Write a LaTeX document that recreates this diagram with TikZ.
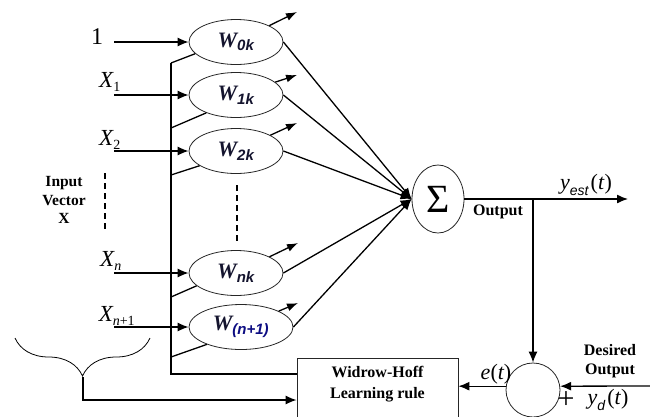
\documentclass[tikz,border=0pt]{standalone}
\usepackage{fontspec}
\setmainfont{Liberation Serif}
\newfontfamily\sansf{Liberation Sans}
\usetikzlibrary{arrows.meta,shapes.geometric,decorations.pathreplacing,calc}

\definecolor{wink}{rgb}{0.08,0.08,0.18}
% weight label: bold italic W with a bold subscript
\newcommand\wlab[1]{{\color{wink}\fontsize{22}{22}\selectfont\bfseries\itshape W$_{\hbox{\fontsize{15}{15}\selectfont\sansf\bfseries #1}}$}}
% input label: italic X with a subscript
\newcommand\xlab[1]{{\fontsize{23}{23}\selectfont\itshape X$_{\hbox{\fontsize{14}{14}\selectfont\upshape #1}}$}}

\begin{document}
\begin{tikzpicture}[x=1pt,y=-1pt, line width=1.3pt,
  wnode/.style={draw=black!85, ellipse, line width=0.8pt, minimum width=94pt,
                minimum height=45pt, inner sep=0pt},
  arr/.style={-{Latex[length=11pt,width=9pt]}},
  sarr/.style={-{Latex[length=11pt,width=8pt]}},
  blbl/.style={inner sep=0pt, font=\fontsize{16}{16}\selectfont\bfseries, align=center},
  dash line/.style={dash pattern=on 6pt off 4pt, line width=1.2pt}
]
\useasboundingbox (0,0) rectangle (650,416);

% weight nodes
\node[wnode] (w0) at (236,42)  {\wlab{0\textit{k}}};
\node[wnode] (w1) at (236,95)  {\wlab{1\textit{k}}};
\node[wnode] (w2) at (236,151) {\wlab{2\textit{k}}};
\node[wnode] (wn) at (236,273) {\wlab{\textit{nk}}};
\node[wnode, minimum width=104pt] (wm) at (241,327)
  {{\color{wink}\fontsize{22}{22}\selectfont\bfseries\itshape W$_{\hbox{\fontsize{15}{15}\selectfont\sansf\bfseries\color{wink!60!blue} (\textit{n}+1)}}$}};

% summing junction, error junction, learning rule
\node[draw=black!85, ellipse, line width=0.8pt, minimum width=52pt, minimum height=68pt, inner sep=0pt]
  (sig) at (438,199) {\fontsize{40}{40}\selectfont Σ};
\node[draw=black!85, circle, line width=0.8pt, minimum size=54pt, inner sep=0pt] (err) at (533,390) {};
\node[draw=black!85, line width=0.8pt, minimum width=161pt, minimum height=70pt, anchor=north]
  (rule) at (377.5,358) {};
\node[blbl] (ruletext) at (377.5,384) {Widrow-Hoff\\[5pt]Learning rule};

% input labels
\node[inner sep=0pt, font=\fontsize{24}{24}\selectfont] (one) at (97,37) {1};
\node[inner sep=0pt] (x1) at (110,82)  {\xlab{1}};
\node[inner sep=0pt] (x2) at (110,140) {\xlab{2}};
\node[inner sep=0pt] (xn) at (111,261) {\xlab{\itshape n}};
\node[inner sep=0pt] (xm) at (117,316) {\xlab{\itshape n\upshape+1}};
\node[blbl, font=\fontsize{15.5}{15.5}\selectfont\bfseries] (invec) at (64,200) {Input\\[3pt]Vector\\[3pt]X};

% input arrows
\coordinate (i0) at (114,42);
\coordinate (i1) at (114,95);
\coordinate (i2) at (114,151);
\coordinate (in) at (114,273);
\coordinate (im) at (114,327);
\draw[arr] (i0) -- (w0);
\draw[arr] (i1) -- (w1);
\draw[arr] (i2) -- (w2);
\draw[arr] (in) -- (wn);
\draw[arr] (im) -- (wm);

% dotted continuation marks
\coordinate (d1a) at (105,173); \coordinate (d1b) at (105,231);
\coordinate (d2a) at (237,185); \coordinate (d2b) at (237,242);
\draw[dash line] (d1a) -- (d1b);
\draw[dash line] (d2a) -- (d2b);

% weight outputs (short arrows)
\coordinate (t0) at (297,12);
\coordinate (t1) at (297,75);
\coordinate (t2) at (297,123);
\coordinate (tn) at (298,243);
\coordinate (tm) at (298,303);
\draw[sarr] (w0) -- (t0);
\draw[sarr] (w1) -- (t1);
\draw[sarr] (w2) -- (t2);
\draw[sarr] (wn) -- (tn);
\draw[sarr] (wm) -- (tm);

% weighted signals into the summing junction
\draw[arr] (w0.east) -- (sig.west);
\draw[arr] (w1.east) -- (sig.west);
\draw[arr] (w2.east) -- (sig.west);
\draw[arr] (wn.east) -- (sig.west);
\draw[arr] (wm.east) -- (sig.west);

% weight update bus from the learning rule
\coordinate (fbtop) at (171,63);
\coordinate (f1) at (171,128);
\coordinate (f2) at (171,175);
\coordinate (fn) at (171,297);
\coordinate (fm) at (171,357);
\draw (fbtop) |- ([yshift=-16pt]rule.north west);
\draw (fbtop) -- (w0.196);
\draw (f1) -- (w1.211);
\draw (f2) -- (w2.202);
\draw (fn) -- (wn.198);
\draw (fm) -- (wm.207);

% input vector brace to the learning rule
\draw[decorate, decoration={brace, amplitude=38pt, aspect=0.5}, line width=0.8pt]
  (150,338) -- (15,338);
\coordinate (bracetip) at (83,377);
\draw[arr] (bracetip) |- ([yshift=-42pt]rule.north west);

% output and error path
\coordinate (yout) at (628,199);
\coordinate (br) at (533,199);
\draw[arr] (sig) -- (yout);
\draw[arr] (br) -- (err);
\draw[arr] (err.172) -- (err.172 -| rule.east);
\coordinate (ydin) at (650,386);
\draw[arr] (ydin) -- (err.8);

% signal labels
\node[inner sep=0pt] (yest) at (586,185)
  {{\fontsize{22}{22}\selectfont\itshape y}$_{\hbox{\fontsize{14}{14}\selectfont\sansf\itshape est}}$\,{\fontsize{22}{22}\selectfont(\textit{t})}};
\node[blbl] (outlbl) at (498,212) {Output};
\node[inner sep=0pt] (elbl) at (496,374) {{\fontsize{22}{22}\selectfont\itshape e\upshape(\itshape t\upshape)}};
\node[blbl] (deslbl) at (610,361) {Desired\\[3pt]Output};
\node[inner sep=0pt] (ydlbl) at (608,400)
  {{\fontsize{22}{22}\selectfont\itshape y}$_{\hbox{\fontsize{14}{14}\selectfont\sansf\itshape d}}$\,{\fontsize{22}{22}\selectfont(\textit{t})}};
\node[inner sep=0pt] (plus) at (566,400) {\fontsize{30}{30}\selectfont +};
\end{tikzpicture}
\end{document}
